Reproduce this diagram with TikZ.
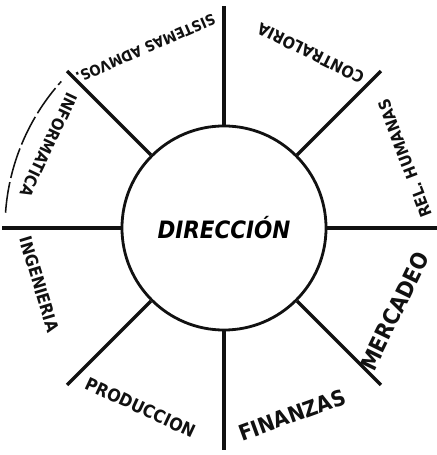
\documentclass[tikz,border=0pt]{standalone}
\usepackage{fontspec}
\setmainfont{DejaVu Sans Condensed}
\usetikzlibrary{calc}
\definecolor{cink}{HTML}{111111}
\tikzset{
  every picture/.style={x=0.025cm, y=0.025cm, line width=2pt},
  hub/.style={circle, draw=cink, line width=2pt, minimum size=5.1cm, inner sep=0pt,
    font=\bfseries\itshape\fontsize{17}{17}\selectfont},
  spoke/.style={draw=cink, line width=2.3pt},
  rim/.style={draw=cink, line width=1.1pt, dash pattern=on 22pt off 3pt},
  area/.style={text=cink, inner sep=1pt, font=\bfseries\fontsize{#1}{#1}\selectfont},
  area/.default=11,
}
\begin{document}
\begin{tikzpicture}
  \useasboundingbox (0,0) rectangle (436,455);
  \node[hub] (dir) at (224,227) {DIRECCIÓN};
  \foreach \a in {0,45,...,315} {
    \coordinate (rim\a) at ($(dir.center)+(\a:222)$);
    \draw[spoke] (dir.\a) -- (rim\a);
  }
  \draw[rim] ($(dir.center)+(176:219)$) arc[start angle=176, end angle=138, radius=5.475cm];
  % departments, read round the ring
  \node[area=10.5, rotate=203.6] (sistemas) at ($(dir.center)+(113.6:196)$) {SISTEMAS ADMVOS.};
  \node[area=11.5, rotate=153.6] (contra) at ($(dir.center)+(63.6:195)$) {CONTRALORIA};
  \node[area=11.5, rotate=111] (humanas) at ($(dir.center)+(21:194)$) {REL. HUMANAS};
  \node[area=16, rotate=64] (mercadeo) at ($(dir.center)+(-26:190)$) {MERCADEO};
  \node[area=15.5, rotate=20] (finanzas) at ($(dir.center)+(-70:199)$) {FINANZAS};
  \node[area=12.5, rotate=-25] (produccion) at ($(dir.center)+(-115:198)$) {PRODUCCION};
  \node[area=12, rotate=-73] (ingenieria) at ($(dir.center)+(-163:193)$) {INGENIERIA};
  \node[area=11.5, rotate=244.6] (informatica) at ($(dir.center)+(154.6:194)$) {INFORMATICA};
\end{tikzpicture}
\end{document}
